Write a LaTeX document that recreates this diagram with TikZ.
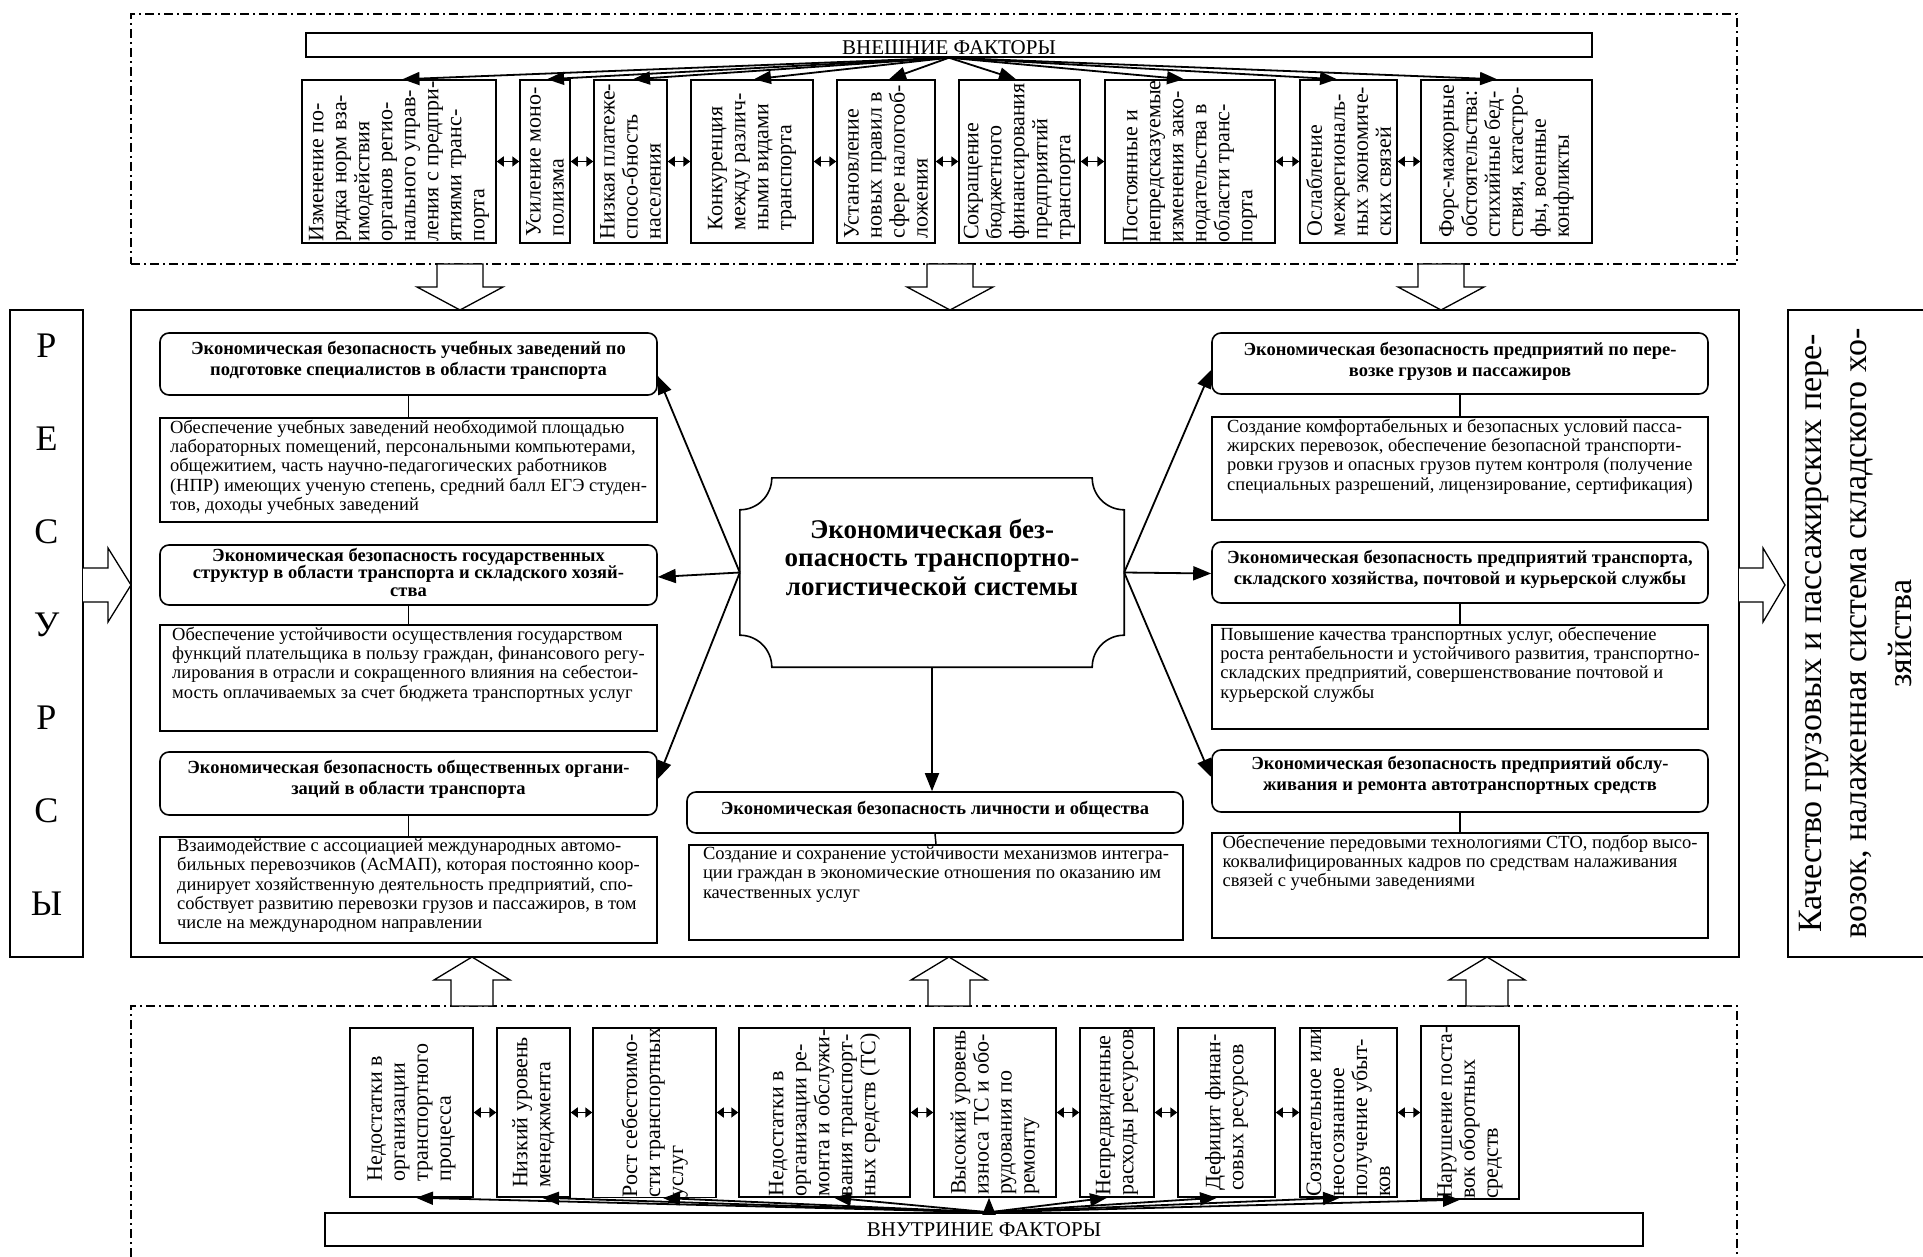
\documentclass[tikz,border=0pt]{standalone}
\usepackage{fontspec}
\setmainfont{Liberation Serif}
\usetikzlibrary{arrows.meta,calc}

% type sizes (1pt = 1 unit of the drawing grid)
\newcommand{\fsbody}{\fontsize{18.5}{19.3}\selectfont}
\newcommand{\fshead}{\fontsize{18.5}{21.5}\selectfont\bfseries}
\newcommand{\fsfact}{\fontsize{22}{23}\selectfont}
\newcommand{\fsbar}{\fontsize{21}{24}\selectfont}
\newcommand{\fscore}{\fontsize{27}{28.5}\selectfont\bfseries}
\newcommand{\fsside}{\fontsize{34}{45}\selectfont}

% one set line, left aligned / centred
\newcommand{\tline}[1]{\hbox{#1}}
\newcommand{\ctline}[1]{\hbox to \linewidth{\hss#1\hss}}
% vertical factor text, read from bottom to top
\newcommand{\vtext}[2]{\rotatebox{90}{\parbox[c]{#1pt}{\fsfact #2}}}
% header and body texts hung from the top of their boxes
\newcommand{\hdrtext}[4]{\parbox[c][#2pt][t]{#1pt}{\fshead\vspace*{#3pt}#4}}
\newcommand{\bdytext}[3]{\parbox[c][#2pt][t]{#1pt}{\fsbody #3}}

\begin{document}
\begin{tikzpicture}[x=1pt,y=-1pt,
  fbox/.style={draw,line width=1.5pt,inner sep=0pt},
  frame/.style={draw,line width=1.5pt,inner sep=0pt},
  ddframe/.style={draw,line width=1.3pt,dash pattern=on 9pt off 4pt on 2pt off 4pt,inner sep=0pt},
  hdr/.style={draw,line width=1.6pt,rounded corners=9pt,inner xsep=4pt,inner ysep=2pt},
  bdy/.style={draw,line width=1.6pt,inner xsep=5pt,inner ysep=2pt},
  feed/.style={line width=1.8pt,-{Triangle[length=17pt,width=13pt]}},
  conn/.style={line width=1.8pt,-{Triangle[length=18pt,width=14pt]}},
  link/.style={line width=1.5pt},
  dbl/.style={line width=1.5pt,{Triangle[length=7pt,width=10pt]}-{Triangle[length=7pt,width=10pt]}},
  hollow/.style={draw,line width=1.3pt,fill=white,line join=miter}]

\useasboundingbox (0,0) rectangle (1923,1257);
\fill[white] (0,0) rectangle (1923,1257);

% ---------------- external factors ----------------
\node[ddframe,minimum width=1606pt,minimum height=250pt] (ext) at (934,139) {};
\node[frame,minimum width=1286pt,minimum height=24pt,text height=21pt,text depth=2pt] (extbar) at (949,45) {\fsbar ВНЕШНИЕ ФАКТОРЫ};

\node[fbox,minimum width=194pt,minimum height=163pt] (e1) at (399,161.5) {\vtext{157}{%
  \tline{Изменение по-}\tline{рядка норм вза-}\tline{имодействия}\tline{органов регио-}%
  \tline{нального управ-}\tline{ления с предпри-}\tline{ятиями транс-}\tline{порта}}};
\node[fbox,minimum width=50pt,minimum height=163pt] (e2) at (545,161.5) {\vtext{157}{%
  \tline{Усиление моно-}\tline{полизма}}};
\node[fbox,minimum width=73pt,minimum height=163pt] (e3) at (630.5,161.5) {\vtext{157}{%
  \tline{Низкая платеже-}\tline{спосо-бность}\tline{населения}}};
\node[fbox,minimum width=122pt,minimum height=163pt] (e4) at (752,161.5) {\vtext{157}{%
  \tline{Конкуренция}\tline{между различ-}\tline{ными видами}\tline{транспорта}}};
\node[fbox,minimum width=98pt,minimum height=163pt] (e5) at (886,161.5) {\vtext{157}{%
  \tline{Установление}\tline{новых правил в}\tline{сфере налогооб-}\tline{ложения}}};
\node[fbox,minimum width=121pt,minimum height=163pt] (e6) at (1019.5,161.5) {\vtext{157}{%
  \tline{Сокращение}\tline{бюджетного}\tline{финансирования}\tline{предприятий}\tline{транспорта}}};
\node[fbox,minimum width=170pt,minimum height=163pt] (e7) at (1190,161.5) {\vtext{157}{%
  \tline{Постоянные и}\tline{непредсказуемые}\tline{изменения зако-}\tline{нодательства в}%
  \tline{области транс-}\tline{порта}}};
\node[fbox,minimum width=97pt,minimum height=163pt] (e8) at (1348.5,161.5) {\vtext{157}{%
  \tline{Ослабление}\tline{межрегиональ-}\tline{ных экономиче-}\tline{ских связей}}};
\node[fbox,minimum width=171pt,minimum height=163pt] (e9) at (1506.5,161.5) {\vtext{157}{%
  \tline{Форс-мажорные}\tline{обстоятельства:}\tline{стихийные бед-}\tline{ствия, катастро-}%
  \tline{фы, военные}\tline{конфликты}}};

\foreach \a/\b in {e1/e2,e2/e3,e3/e4,e4/e5,e5/e6,e6/e7,e7/e8,e8/e9}
  \draw[dbl] (\a.east) -- (\b.west);

\foreach \b/\d in {e1/3.5,e2/2,e3/2.5,e4/2,e5/3,e6/-3.5,e7/-6,e8/-11.5,e9/-9.5}
  \draw[feed] (extbar.south) -- ([xshift=\d pt]\b.north);

% ---------------- internal factors ----------------
\node[ddframe,minimum width=1606pt,minimum height=270pt] (int) at (934,1141) {};
\node[frame,minimum width=1318pt,minimum height=33pt] (intbar) at (984,1229.5) {\fsbar ВНУТРИНИЕ ФАКТОРЫ};

\node[fbox,minimum width=123pt,minimum height=169pt] (i1) at (411.5,1112.5) {\vtext{163}{%
  \tline{Недостатки в}\tline{организации}\tline{транспортного}\tline{процесса}}};
\node[fbox,minimum width=73pt,minimum height=169pt] (i2) at (533.5,1112.5) {\vtext{163}{%
  \tline{Низкий уровень}\tline{менеджмента}}};
\node[fbox,minimum width=123pt,minimum height=169pt] (i3) at (654.5,1112.5) {\vtext{163}{%
  \tline{Рост себестоимо-}\tline{сти транспортных}\tline{услуг}}};
\node[fbox,minimum width=171pt,minimum height=169pt] (i4) at (824.5,1112.5) {\vtext{163}{%
  \tline{Недостатки в}\tline{организации ре-}\tline{монта и обслужи-}\tline{вания транспорт-}%
  \tline{ных средств (ТС)}}};
\node[fbox,minimum width=122pt,minimum height=169pt] (i5) at (995,1112.5) {\vtext{163}{%
  \tline{Высокий уровень}\tline{износа ТС и обо-}\tline{рудования по}\tline{ремонту}}};
\node[fbox,minimum width=74pt,minimum height=169pt] (i6) at (1117,1112.5) {\vtext{163}{%
  \tline{Непредвиденные}\tline{расходы ресурсов}}};
\node[fbox,minimum width=97pt,minimum height=169pt] (i7) at (1226.5,1112.5) {\vtext{163}{%
  \tline{Дефицит финан-}\tline{совых ресурсов}}};
\node[fbox,minimum width=97pt,minimum height=169pt] (i8) at (1348.5,1112.5) {\vtext{163}{%
  \tline{Сознательное или}\tline{неосознанное}\tline{получение убыт-}\tline{ков}}};
\node[fbox,minimum width=98pt,minimum height=169pt] (i9) at (1470,1112.5) {\vtext{163}{%
  \tline{Нарушение поста-}\tline{вок оборотных}\tline{средств}}};

\foreach \a/\b in {i1/i2,i2/i3,i3/i4,i4/i5,i5/i6,i6/i7,i7/i8,i8/i9}
  \draw[dbl] (\a.east) -- (\b.west);

\coordinate (io) at ([xshift=5pt]intbar.north);
\foreach \b/\d in {i1/4.5,i2/8.5,i3/8.5,i4/9.5,i5/-6,i6/-10,i7/-9.5,i8/-8.5,i9/-10}
  \draw[feed] (io) -- ([xshift=\d pt]\b.south);

% ---------------- side boxes ----------------
\node[frame,minimum width=73pt,minimum height=647pt] (res) at (46.5,633.5) {};
\node[align=center,font=\fontsize{36}{93}\selectfont] (reslbl) at (46.5,625) {Р\\Е\\С\\У\\Р\\С\\Ы};

\node[frame,minimum width=136pt,minimum height=647pt] (out) at (1856,633.5) {\rotatebox{90}{\parbox{632pt}{\fsside\centering
  Качество грузовых и пассажирских пере-\\возок, налаженная система складского хо-\\зяйства}}};

% ---------------- main field ----------------
\node[frame,minimum width=1608pt,minimum height=647pt] (main) at (935,633.5) {};

% block arrows into and out of the main field
\foreach \cx in {460,950,1441}
  \draw[hollow] (\cx-23,264) -- (\cx-23,287) -- (\cx-43,287) -- (\cx,310) -- (\cx+43,287) -- (\cx+23,287) -- (\cx+23,264) -- cycle;
\foreach \cx in {472,949,1487}
  \draw[hollow] (\cx-21,1006) -- (\cx-21,980) -- (\cx-38,980) -- (\cx,957) -- (\cx+38,980) -- (\cx+21,980) -- (\cx+21,1006) -- cycle;
\draw[hollow] (83,568) -- (108,568) -- (108,548) -- (131,585) -- (108,622) -- (108,602) -- (83,602);
\draw[hollow] (1739,568) -- (1763,568) -- (1763,548) -- (1785,585) -- (1763,622) -- (1763,602) -- (1739,602);

% left column
\node[hdr,minimum width=497pt,minimum height=62pt] (L1h) at (408.5,364) {\hdrtext{489}{58}{6}{%
  \ctline{Экономическая безопасность учебных заведений по}\ctline{подготовке специалистов в области транспорта}}};
\node[bdy,minimum width=497pt,minimum height=104pt] (L1b) at (408.5,470) {\bdytext{487}{100}{%
  \tline{Обеспечение учебных заведений необходимой площадью}%
  \tline{лабораторных помещений, персональными компьютерами,}%
  \tline{общежитием, часть научно-педагогических работников}%
  \tline{(НПР) имеющих ученую степень, средний балл ЕГЭ студен-}%
  \tline{тов, доходы учебных заведений}}};
\node[hdr,minimum width=497pt,minimum height=60pt] (L2h) at (408.5,575) {\hdrtext{489}{56}{1}{\baselineskip=17.5pt
  \ctline{Экономическая безопасность государственных}\ctline{структур в области транспорта и складского хозяй-}\ctline{ства}}};
\node[bdy,minimum width=497pt,minimum height=106pt] (L2b) at (408.5,678) {\bdytext{487}{102}{%
  \tline{Обеспечение устойчивости осуществления государством}%
  \tline{функций плательщика в пользу граждан, финансового регу-}%
  \tline{лирования в отрасли и сокращенного влияния на себестои-}%
  \tline{мость оплачиваемых за счет бюджета транспортных услуг}}};
\node[hdr,minimum width=497pt,minimum height=63pt] (L3h) at (408.5,783.5) {\hdrtext{489}{59}{6}{%
  \ctline{Экономическая безопасность общественных органи-}\ctline{заций в области транспорта}}};
\node[bdy,minimum width=497pt,minimum height=106pt] (L3b) at (408.5,890) {\bdytext{487}{102}{%
  \tline{Взаимодействие с ассоциацией международных автомо-}%
  \tline{бильных перевозчиков (АсМАП), которая постоянно коор-}%
  \tline{динирует хозяйственную деятельность предприятий, спо-}%
  \tline{собствует развитию перевозки грузов и пассажиров, в том}%
  \tline{числе на международном направлении}}};

% right column
\node[hdr,minimum width=496pt,minimum height=61pt] (R1h) at (1460,363.5) {\hdrtext{488}{57}{7}{%
  \ctline{Экономическая безопасность предприятий по пере-}\ctline{возке грузов и пассажиров}}};
\node[bdy,minimum width=496pt,minimum height=103pt] (R1b) at (1460,468.5) {\bdytext{486}{99}{%
  \tline{Создание комфортабельных и безопасных условий пасса-}%
  \tline{жирских перевозок, обеспечение безопасной транспорти-}%
  \tline{ровки грузов и опасных грузов путем контроля (получение}%
  \tline{специальных разрешений, лицензирование, сертификация)}}};
\node[hdr,minimum width=496pt,minimum height=61pt] (R2h) at (1460,572.5) {\hdrtext{488}{57}{6}{%
  \ctline{Экономическая безопасность предприятий транспорта,}\ctline{складского хозяйства, почтовой и курьерской службы}}};
\node[bdy,minimum width=496pt,minimum height=104pt] (R2b) at (1460,677) {\bdytext{486}{100}{%
  \tline{Повышение качества транспортных услуг, обеспечение}%
  \tline{роста рентабельности и устойчивого развития, транспортно-}%
  \tline{складских предприятий, совершенствование почтовой и}%
  \tline{курьерской службы}}};
\node[hdr,minimum width=496pt,minimum height=62pt] (R3h) at (1460,781) {\hdrtext{488}{58}{4}{%
  \ctline{Экономическая безопасность предприятий обслу-}\ctline{живания и ремонта автотранспортных средств}}};
\node[bdy,minimum width=496pt,minimum height=105pt] (R3b) at (1460,885.5) {\bdytext{486}{101}{%
  \tline{Обеспечение передовыми технологиями СТО, подбор высо-}%
  \tline{коквалифицированных кадров по средствам налаживания}%
  \tline{связей с учебными заведениями}}};

% centre column
\node[hdr,minimum width=496pt,minimum height=41pt] (Ch) at (935,812.5) {\hdrtext{488}{37}{7}{%
  \ctline{Экономическая безопасность личности и общества}}};
\node[bdy,minimum width=494pt,minimum height=95pt] (Cb) at (936,892.5) {\bdytext{484}{91}{%
  \tline{Создание и сохранение устойчивости механизмов интегра-}%
  \tline{ции граждан в экономические отношения по оказанию им}%
  \tline{качественных услуг}}};

% central plaque
\node[minimum width=384pt,minimum height=189pt,inner sep=0pt] (core) at (932,572.5) {};
\draw[line width=1.6pt]
  ($(core.north west)+(32,0)$) -- ($(core.north east)+(-32,0)$)
  .. controls ($(core.north east)+(-32,17.7)$) and ($(core.north east)+(-17.7,32)$) .. ($(core.north east)+(0,32)$)
  -- ($(core.south east)+(0,-32)$)
  .. controls ($(core.south east)+(-17.7,-32)$) and ($(core.south east)+(-32,-17.7)$) .. ($(core.south east)+(-32,0)$)
  -- ($(core.south west)+(32,0)$)
  .. controls ($(core.south west)+(32,-17.7)$) and ($(core.south west)+(17.7,-32)$) .. ($(core.south west)+(0,-32)$)
  -- ($(core.north west)+(0,32)$)
  .. controls ($(core.north west)+(17.7,32)$) and ($(core.north west)+(32,17.7)$) .. cycle;
\node[align=center,font=\fscore] (coretext) at (932,557) {Экономическая без-\\опасность транспортно-\\логистической системы};

% links from headers to their descriptions
\foreach \h/\b in {L1h/L1b,L2h/L2b,L3h/L3b,R1h/R1b,R2h/R2b,R3h/R3b,Ch/Cb}
  \draw[link] (\h.south) -- (\b.north);

% arrows from the central plaque
\draw[conn] (core.west) -- ([yshift=-12pt]L1h.east);
\draw[conn] (core.west) -- ([yshift=-2pt]L2h.east);
\draw[conn] (core.west) -- ([yshift=4.5pt]L3h.east);
\draw[conn] (core.east) -- ([yshift=-6.5pt]R1h.west);
\draw[conn] (core.east) -- ([yshift=-1pt]R2h.west);
\draw[conn] (core.east) -- ([yshift=4pt]R3h.west);
\draw[conn] (core.south) -- (core.south |- Ch.north);

\end{tikzpicture}
\end{document}
